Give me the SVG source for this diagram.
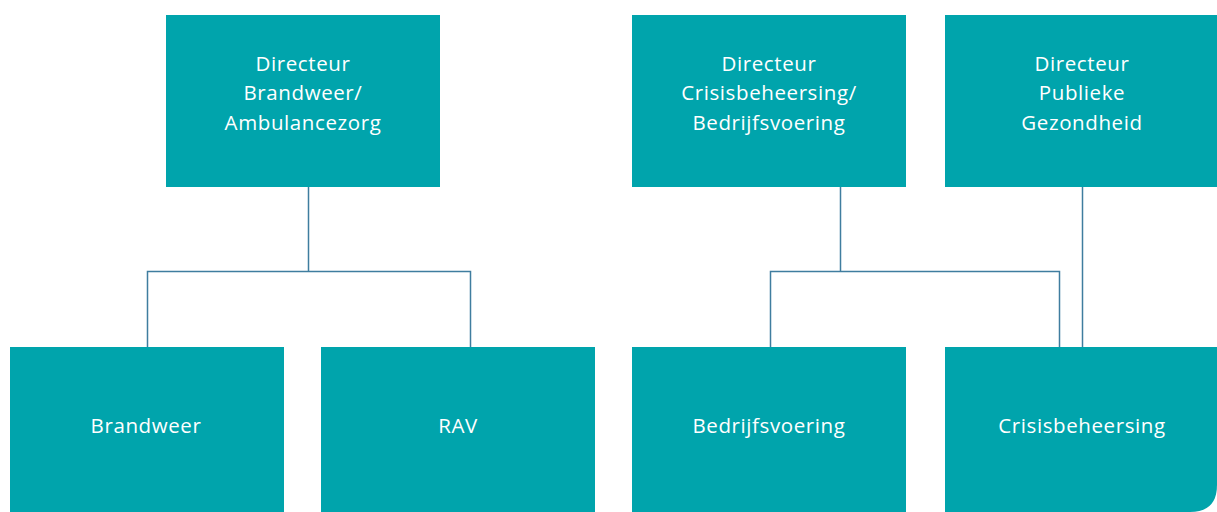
<svg xmlns="http://www.w3.org/2000/svg" width="1217" height="512" viewBox="0 0 1217 512">
<style>
.box{fill:#00a4ac}
.t{fill:#ffffff;font-family:"Open Sans","Noto Sans",sans-serif;font-size:20.5px;text-anchor:middle;letter-spacing:0.6px}
.c{fill:none;stroke:#3f7d9f;stroke-width:1.5}
</style>
<rect width="1217" height="512" fill="#ffffff"/>
<g id="connectors">
<path class="c" d="M308.5 187V271M147.5 347V271.5H470.5V347"/>
<path class="c" d="M840.5 187V271M770.5 347V271.5H1059.5V347"/>
<path class="c" d="M1082.5 187V347"/>
</g>
<g id="dir-brandweer">
<rect class="box" x="166" y="15" width="274" height="172"/>
<text class="t" x="303" y="71">Directeur</text>
<text class="t" x="303" y="100">Brandweer/</text>
<text class="t" x="303" y="130">Ambulancezorg</text>
</g>
<g id="dir-crisis">
<rect class="box" x="632" y="15" width="274" height="172"/>
<text class="t" x="769" y="71">Directeur</text>
<text class="t" x="769" y="100">Crisisbeheersing/</text>
<text class="t" x="769" y="130">Bedrijfsvoering</text>
</g>
<g id="dir-publiek">
<rect class="box" x="945" y="15" width="272" height="172"/>
<text class="t" x="1082" y="71">Directeur</text>
<text class="t" x="1082" y="100">Publieke</text>
<text class="t" x="1082" y="130">Gezondheid</text>
</g>
<g id="brandweer">
<rect class="box" x="10" y="347" width="274" height="165"/>
<text class="t" x="146" y="433">Brandweer</text>
</g>
<g id="rav">
<rect class="box" x="321" y="347" width="274" height="165"/>
<text class="t" x="458" y="433">RAV</text>
</g>
<g id="bedrijfsvoering">
<rect class="box" x="632" y="347" width="274" height="165"/>
<text class="t" x="769" y="433">Bedrijfsvoering</text>
</g>
<g id="crisisbeheersing">
<path class="box" d="M945 347H1217V485Q1217 512 1190 512H945Z"/>
<text class="t" x="1082" y="433">Crisisbeheersing</text>
</g>
</svg>
